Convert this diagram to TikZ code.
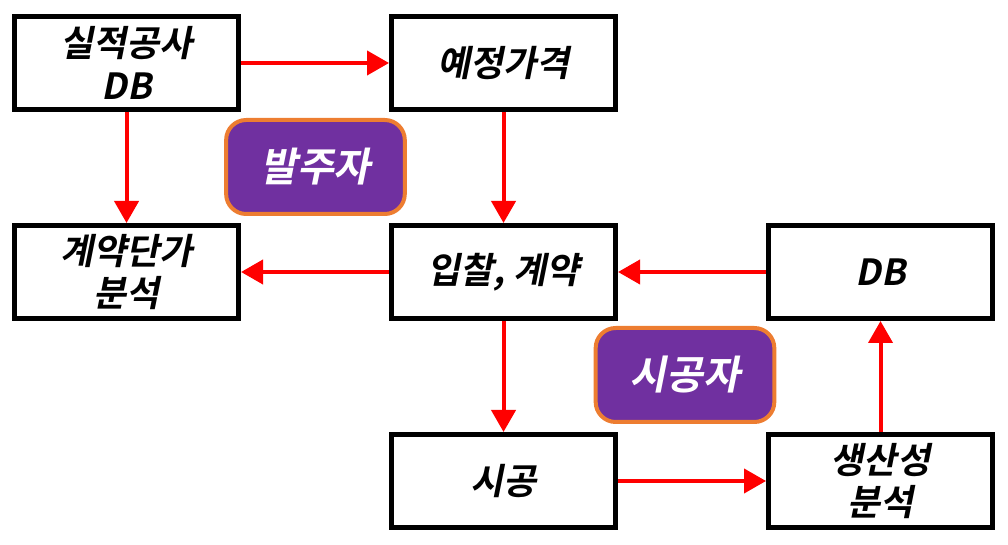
\documentclass[tikz,border=0pt]{standalone}
\usepackage{fontspec}
\newfontfamily\krfont{Noto Sans CJK KR}[BoldFont={* Bold}, FakeSlant=0.2]
\usetikzlibrary{arrows.meta}
\definecolor{actorfill}{HTML}{7030A0}
\definecolor{actorline}{HTML}{ED7D31}

\begin{document}
\begin{tikzpicture}
    \tikzstyle{stage}=[draw=black,fill=white,line width=3.75pt,minimum width=168pt,minimum height=69.75pt,inner sep=0pt,align=center,font=\krfont\bfseries\fontsize{27}{32}\selectfont]
    \tikzstyle{actor}=[draw=actorline,fill=actorfill,line width=3pt,rounded corners=15pt,minimum width=134pt,minimum height=70.5pt,inner sep=0pt,text=white,font=\krfont\bfseries\fontsize{30}{32}\selectfont]
    \tikzstyle{fwd} = [draw=red, line width=3pt, -{Triangle[length=16.5pt,width=18pt]}]

    \def\dx{282.75pt}
    \def\dy{156.75pt}
    \def\ox{94.9pt}
    \def\oy{-47.25pt}

    \useasboundingbox (0,0) rectangle (756pt,-408.75pt);

    \node[stage]  (past) at (\ox+0*\dx,\oy-0*\dy) {실적공사\\DB};
    \node[stage]  (price) at (\ox+1*\dx,\oy-0*\dy) {예정가격};
    \node[stage]  (unit) at (\ox+0*\dx,\oy-1*\dy) {계약단가\\분석};
    \node[stage]  (bid) at (\ox+1*\dx,\oy-1*\dy) {입찰, 계약};
    \node[stage]  (db) at (\ox+2*\dx,\oy-1*\dy) {DB};
    \node[stage]  (build) at (\ox+1*\dx,\oy-2*\dy) {시공};
    \node[stage]  (prod) at (\ox+2*\dx,\oy-2*\dy) {생산성\\분석};

    \node[actor]  (owner) at (236.6pt,-125.25pt) {발주자};
    \node[actor]  (contractor) at (513.75pt,-281.25pt) {시공자};

   \draw [fwd] (past) -- (price);
   \draw [fwd] (past) -- (unit);
   \draw [fwd] (price) -- (bid);
   \draw [fwd] (bid) -- (unit);
   \draw [fwd] (db) -- (bid);
   \draw [fwd] (bid) -- (build);
   \draw [fwd] (build) -- (prod);
   \draw [fwd] (prod) -- (db);

\end{tikzpicture}
\end{document}
